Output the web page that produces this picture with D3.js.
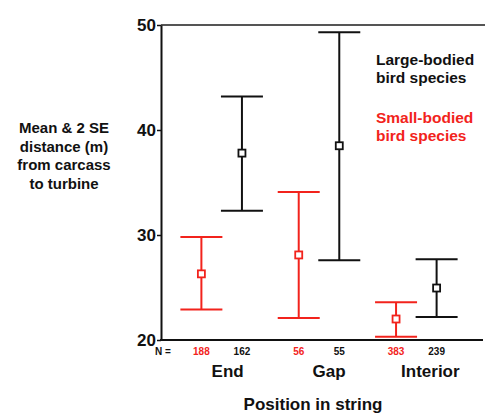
<!DOCTYPE html>
<html>
<head>
<meta charset="utf-8">
<script src="https://cdn.jsdelivr.net/npm/d3@7"></script>
<style>
  body { margin: 0; background: #fff; }
  svg { font-family: "Liberation Sans", Arial, sans-serif; font-weight: bold; }
</style>
</head>
<body>
<div id="chart"></div>
<script>
// data
const positions = ["End", "Gap", "Interior"];
const sizes = ["small", "large"];
const smallMean = [26.3, 28.1, 22.0];
const smallLow  = [22.9, 22.1, 20.3];
const smallHigh = [29.8, 34.1, 23.6];
const largeMean = [37.8, 38.5, 24.95];
const largeLow  = [32.3, 27.6, 22.2];
const largeHigh = [43.2, 49.3, 27.7];
const smallN = [188, 56, 383];
const largeN = [162, 55, 239];
const yTicks = [20, 30, 40, 50];

const width = 485, height = 414;
const red = "#f2231c";
const colors = { small: red, large: "#111" };

const svg = d3.select("#chart").append("svg")
  .attr("width", width)
  .attr("height", height);

const y = d3.scaleLinear().domain([20, 50]).range([340, 25]);
const x = d3.scaleBand().domain(positions).range([173, 465]).padding(0);
const sub = d3.scaleBand().domain(sizes).range([0, x.bandwidth()]).paddingInner(0.2).paddingOuter(0.3);

// flat list of bars
var rows = [];
positions.forEach(function (p, i) {
  rows.push({ pos: p, size: "small", mean: smallMean[i], lo: smallLow[i], hi: smallHigh[i], n: smallN[i] });
  rows.push({ pos: p, size: "large", mean: largeMean[i], lo: largeLow[i], hi: largeHigh[i], n: largeN[i] });
});
const cx = function (d) { return x(d.pos) + sub(d.size) + sub.bandwidth() / 2; };

// top frame line
svg.append("line")
  .attr("x1", 161).attr("x2", 485)
  .attr("y1", y(50)).attr("y2", y(50))
  .attr("stroke", "#555").attr("stroke-width", 2);

// y axis
const yAxis = svg.append("g")
  .attr("transform", "translate(161,0)")
  .call(d3.axisLeft(y).tickValues(yTicks).tickSize(4).tickSizeOuter(0));
yAxis.select(".domain").attr("stroke", "#111").attr("stroke-width", 2);
yAxis.selectAll(".tick line").attr("stroke", "#111").attr("stroke-width", 1.5);
yAxis.selectAll(".tick text")
  .attr("x", -5)
  .style("font-size", "17px")
  .style("font-family", "Liberation Sans, Arial, sans-serif")
  .style("font-weight", "bold")
  .attr("fill", "#111");

// bottom axis line
svg.append("line")
  .attr("x1", 160).attr("x2", 483)
  .attr("y1", y(20)).attr("y2", y(20))
  .attr("stroke", "#111").attr("stroke-width", 2);

// error bars
const capHalf = 21;
const g = svg.selectAll(".bar").data(rows).join("g").attr("class", "bar");
g.append("line")
  .attr("x1", cx).attr("x2", cx)
  .attr("y1", function (d) { return y(d.hi); })
  .attr("y2", function (d) { return y(d.lo); })
  .attr("stroke", function (d) { return colors[d.size]; })
  .attr("stroke-width", 2);
g.append("line")
  .attr("x1", function (d) { return cx(d) - capHalf; })
  .attr("x2", function (d) { return cx(d) + capHalf; })
  .attr("y1", function (d) { return y(d.hi); })
  .attr("y2", function (d) { return y(d.hi); })
  .attr("stroke", function (d) { return colors[d.size]; })
  .attr("stroke-width", 2);
g.append("line")
  .attr("x1", function (d) { return cx(d) - capHalf; })
  .attr("x2", function (d) { return cx(d) + capHalf; })
  .attr("y1", function (d) { return y(d.lo); })
  .attr("y2", function (d) { return y(d.lo); })
  .attr("stroke", function (d) { return colors[d.size]; })
  .attr("stroke-width", 2);
g.append("rect")
  .attr("x", function (d) { return cx(d) - 3.5; })
  .attr("y", function (d) { return y(d.mean) - 3.5; })
  .attr("width", 7).attr("height", 7)
  .attr("fill", "#fff")
  .attr("stroke", function (d) { return colors[d.size]; })
  .attr("stroke-width", 1.8);

// N labels
svg.append("text")
  .attr("x", 163).attr("y", 355)
  .attr("text-anchor", "middle")
  .style("font-size", "10px")
  .attr("fill", "#111")
  .text("N =");
svg.selectAll(".nlab").data(rows).join("text")
  .attr("class", "nlab")
  .attr("x", cx).attr("y", 355)
  .attr("text-anchor", "middle")
  .style("font-size", "10px")
  .attr("fill", function (d) { return colors[d.size]; })
  .text(function (d) { return d.n; });

// category labels
svg.selectAll(".cat").data(positions).join("text")
  .attr("class", "cat")
  .attr("x", function (d, i) { return x(d) + x.bandwidth() / 2 + 6 + i * 4; })
  .attr("y", 377)
  .attr("text-anchor", "middle")
  .style("font-size", "17px")
  .attr("fill", "#111")
  .text(function (d) { return d; });

// x title
svg.append("text")
  .attr("x", 313).attr("y", 410)
  .attr("text-anchor", "middle")
  .style("font-size", "17px")
  .attr("fill", "#111")
  .text("Position in string");

// y title
const yTitle = ["Mean & 2 SE", "distance (m)", "from carcass", "to turbine"];
svg.selectAll(".ytitle").data(yTitle).join("text")
  .attr("class", "ytitle")
  .attr("x", 64)
  .attr("y", function (d, i) { return 133 + i * 18.5; })
  .attr("text-anchor", "middle")
  .style("font-size", "15px")
  .attr("fill", "#111")
  .text(function (d) { return d; });

// legend
const legend = [
  { lines: ["Large-bodied", "bird species"], color: "#111", y: 65 },
  { lines: ["Small-bodied", "bird species"], color: red, y: 123 }
];
legend.forEach(function (l) {
  l.lines.forEach(function (t, i) {
    svg.append("text")
      .attr("x", 376).attr("y", l.y + i * 18)
      .style("font-size", "15.5px")
      .attr("fill", l.color)
      .text(t);
  });
});
</script>
</body>
</html>
